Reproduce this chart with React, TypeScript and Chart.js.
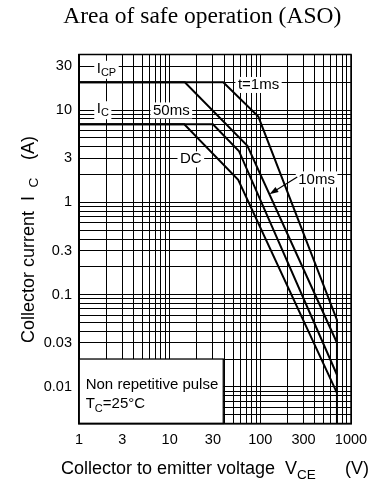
import React, { useEffect, useRef } from 'react';
import { Chart, registerables } from 'chart.js';

Chart.register(...registerables);

// ---------- data ----------
const X_MIN = 1;
const X_MAX = 1000;
const Y_MIN = 0.004;
const Y_MAX = 40;

const X_TICK_VALUES = [1, 3, 10, 30, 100, 300, 1000];
const X_TICK_LABELS = ['1', '3', '10', '30', '100', '300', '1000'];
const Y_TICK_VALUES = [0.01, 0.03, 0.1, 0.3, 1, 3, 10, 30];
const Y_TICK_LABELS = ['0.01', '0.03', '0.1', '0.3', '1', '3', '10', '30'];

// SOA curves: V_CE (V) / I_C (A)
const T1MS_VCE = [1, 39, 95, 700, 700];
const T1MS_IC = [20, 20, 8.5, 0.053, 0.004];
const T10MS_VCE = [1, 14.7, 72, 700];
const T10MS_IC = [20, 20, 4.1, 0.03];
const T50MS_VCE = [1, 30, 58, 700];
const T50MS_IC = [7, 7, 3.6, 0.0135];
const DC_VCE = [1, 14.5, 57, 700];
const DC_IC = [7, 7, 1.75, 0.0086];

// note box extent
const NOTE_BOX_VCE = [1, 39];
const NOTE_BOX_IC = [0.004, 0.02];

// curve labels (left edge / vertical middle, in data units)
const CURVE_LABELS = [
  { text: 'I', sub: 'CP', vce: 1.57, ic: 28 },
  { text: 'I', sub: 'C', vce: 1.57, ic: 10.2 },
  { text: '50ms', sub: '', vce: 6.55, ic: 9.9 },
  { text: 't=1ms', sub: '', vce: 56.6, ic: 18.7 },
  { text: 'DC', sub: '', vce: 13.0, ic: 2.92 },
  { text: '10ms', sub: '', vce: 262, ic: 1.77 },
];
const ARROW_LABEL_INDEX = 5;
const ARROW_TIP_VCE = 126;

const TITLE = 'Area of safe operation (ASO)';
const X_TITLE = ['Collector to emitter voltage', 'V', 'CE', '(V)'];
const Y_TITLE = ['Collector current', 'I', 'C', '(A)'];
const NOTE_LINE1 = 'Non repetitive pulse';
const NOTE_LINE2 = ['T', 'C', '=25°C'];

// ---------- helpers ----------
const SANS = '"Liberation Sans", Arial, Helvetica, sans-serif';
const SERIF = '"Liberation Serif", "Times New Roman", serif';

const gridValues = (min: number, max: number) => {
  const out: number[] = [];
  for (let e = Math.floor(Math.log10(min)) - 1; e <= Math.ceil(Math.log10(max)); e++) {
    for (let m = 1; m <= 9; m++) {
      const v = parseFloat((m * Math.pow(10, e)).toPrecision(6));
      if (v >= min * 0.9999 && v <= max * 1.0001) out.push(v);
    }
  }
  return out;
};

const labelFor = (v: number, vals: number[], labels: string[]) => {
  const i = vals.findIndex((t) => Math.abs(Math.log10(t) - Math.log10(v)) < 1e-6);
  return i >= 0 ? labels[i] : '';
};

const pts = (xs: number[], ys: number[]) => xs.map((x, i) => ({ x, y: ys[i] }));

const logInterp = (xs: number[], ys: number[], xv: number) => {
  for (let k = 0; k < xs.length - 1; k++) {
    if (xs[k + 1] > xs[k] && xv >= xs[k] && xv <= xs[k + 1]) {
      const t = (Math.log(xv) - Math.log(xs[k])) / (Math.log(xs[k + 1]) - Math.log(xs[k]));
      return Math.exp(Math.log(ys[k]) + t * (Math.log(ys[k + 1]) - Math.log(ys[k])));
    }
  }
  return ys[ys.length - 1];
};

const LABEL_SIZE = 15;
const SUB_SIZE = 11;

const measureLabel = (ctx: CanvasRenderingContext2D, l: { text: string; sub: string }) => {
  ctx.font = `${LABEL_SIZE}px ${SANS}`;
  const w1 = ctx.measureText(l.text).width;
  ctx.font = `${SUB_SIZE}px ${SANS}`;
  const w2 = l.sub ? ctx.measureText(l.sub).width : 0;
  return { w1, w2 };
};

const annotPlugin = {
  id: 'asoAnnot',
  beforeDatasetsDraw(chart: any) {
    const { ctx, scales } = chart;
    const x = scales.x;
    const y = scales.y;
    ctx.save();
    // note box
    const l = x.getPixelForValue(NOTE_BOX_VCE[0]);
    const r = x.getPixelForValue(NOTE_BOX_VCE[1]);
    const t = y.getPixelForValue(NOTE_BOX_IC[1]);
    const b = y.getPixelForValue(NOTE_BOX_IC[0]);
    ctx.fillStyle = '#fff';
    ctx.fillRect(l, t, r - l, b - t);
    ctx.strokeStyle = '#000';
    ctx.lineWidth = 1.3;
    ctx.strokeRect(l, t, r - l, b - t);
    // note text
    ctx.fillStyle = '#000';
    ctx.textAlign = 'left';
    ctx.textBaseline = 'alphabetic';
    ctx.font = `15px ${SANS}`;
    ctx.fillText(NOTE_LINE1, l + 6.7, t + 30);
    let cx = l + 6.7;
    ctx.fillText(NOTE_LINE2[0], cx, t + 49.3);
    cx += ctx.measureText(NOTE_LINE2[0]).width;
    ctx.font = `${SUB_SIZE}px ${SANS}`;
    ctx.fillText(NOTE_LINE2[1], cx, t + 52.5);
    cx += ctx.measureText(NOTE_LINE2[1]).width;
    ctx.font = `15px ${SANS}`;
    ctx.fillText(NOTE_LINE2[2], cx, t + 49.3);

    // label backgrounds
    CURVE_LABELS.forEach((lb) => {
      const px = x.getPixelForValue(lb.vce);
      const py = y.getPixelForValue(lb.ic);
      const { w1, w2 } = measureLabel(ctx, lb);
      ctx.fillStyle = '#fff';
      ctx.fillRect(px - 2.5, py - 8, w1 + w2 + 5, lb.sub ? 18 : 16);
    });
    ctx.restore();
  },
  afterDatasetsDraw(chart: any) {
    const { ctx, scales, chartArea } = chart;
    const x = scales.x;
    const y = scales.y;
    ctx.save();
    ctx.fillStyle = '#000';
    ctx.textAlign = 'left';
    ctx.textBaseline = 'middle';
    CURVE_LABELS.forEach((lb) => {
      const px = x.getPixelForValue(lb.vce);
      const py = y.getPixelForValue(lb.ic);
      const { w1 } = measureLabel(ctx, lb);
      ctx.font = `${LABEL_SIZE}px ${SANS}`;
      ctx.fillText(lb.text, px, py);
      if (lb.sub) {
        ctx.font = `${SUB_SIZE}px ${SANS}`;
        ctx.fillText(lb.sub, px + w1, py + 4);
      }
    });
    // arrow from 10ms label to the 10ms curve
    const al = CURVE_LABELS[ARROW_LABEL_INDEX];
    const sx = x.getPixelForValue(al.vce) - 1;
    const sy = y.getPixelForValue(al.ic) - 2.5;
    const tx = x.getPixelForValue(ARROW_TIP_VCE);
    const ty = y.getPixelForValue(logInterp(T10MS_VCE, T10MS_IC, ARROW_TIP_VCE));
    const ang = Math.atan2(ty - sy, tx - sx);
    const hl = 9;
    const hw = 3;
    ctx.strokeStyle = '#000';
    ctx.lineWidth = 1.2;
    ctx.beginPath();
    ctx.moveTo(sx, sy);
    ctx.lineTo(tx - Math.cos(ang) * hl * 0.8, ty - Math.sin(ang) * hl * 0.8);
    ctx.stroke();
    ctx.beginPath();
    ctx.moveTo(tx, ty);
    ctx.lineTo(tx - Math.cos(ang) * hl - Math.sin(ang) * hw, ty - Math.sin(ang) * hl + Math.cos(ang) * hw);
    ctx.lineTo(tx - Math.cos(ang) * hl + Math.sin(ang) * hw, ty - Math.sin(ang) * hl - Math.cos(ang) * hw);
    ctx.closePath();
    ctx.fill();

    // frame
    ctx.lineWidth = 1.5;
    ctx.strokeRect(chartArea.left, chartArea.top, chartArea.right - chartArea.left, chartArea.bottom - chartArea.top);
    ctx.restore();
  },
  afterDraw(chart: any) {
    const { ctx } = chart;
    ctx.save();
    ctx.fillStyle = '#000';
    ctx.textBaseline = 'alphabetic';
    // main title
    ctx.font = `23.5px ${SERIF}`;
    ctx.textAlign = 'center';
    ctx.fillText(TITLE, 202.3, 22.7);
    // x title
    ctx.textAlign = 'left';
    ctx.font = `18px ${SANS}`;
    ctx.fillText(X_TITLE[0], 61, 474);
    ctx.fillText(X_TITLE[1], 285, 474);
    ctx.font = `13.5px ${SANS}`;
    ctx.fillText(X_TITLE[2], 297, 478.5);
    ctx.font = `18px ${SANS}`;
    ctx.fillText(X_TITLE[3], 345, 474);
    // y title (rotated)
    ctx.translate(34, 343);
    ctx.rotate(-Math.PI / 2);
    ctx.fillText(Y_TITLE[0], 0, 0);
    ctx.fillText(Y_TITLE[1], 142, 0);
    ctx.font = `13.5px ${SANS}`;
    ctx.fillText(Y_TITLE[2], 155.5, 3.5);
    ctx.font = `18px ${SANS}`;
    ctx.fillText(Y_TITLE[3], 183, 0);
    ctx.restore();
  },
};

const buildConfig = (): any => {
  const line = (label: string, xs: number[], ys: number[]) => ({
    label,
    data: pts(xs, ys),
    showLine: true,
    borderColor: '#000',
    backgroundColor: '#000',
    borderWidth: 2,
    pointRadius: 0,
    pointHoverRadius: 0,
    tension: 0,
    fill: false,
  });
  const xGrid = gridValues(X_MIN, X_MAX);
  const yGrid = gridValues(Y_MIN, Y_MAX);
  return {
    type: 'scatter',
    data: {
      datasets: [
        line('t=1ms', T1MS_VCE, T1MS_IC),
        line('10ms', T10MS_VCE, T10MS_IC),
        line('50ms', T50MS_VCE, T50MS_IC),
        line('DC', DC_VCE, DC_IC),
      ],
    },
    options: {
      responsive: false,
      animation: false,
      events: [],
      layout: { padding: { top: 54.5, right: 30, bottom: 0, left: 0 } },
      plugins: { legend: { display: false }, tooltip: { enabled: false }, title: { display: false } },
      scales: {
        x: {
          type: 'logarithmic',
          min: X_MIN,
          max: X_MAX,
          afterBuildTicks: (s: any) => {
            s.ticks = xGrid.map((v) => ({ value: v }));
          },
          afterFit: (s: any) => {
            s.height = 59.5;
          },
          grid: { color: '#000', lineWidth: 1, drawTicks: false },
          border: { display: true, color: '#000', width: 1.5 },
          ticks: {
            autoSkip: false,
            maxRotation: 0,
            minRotation: 0,
            padding: 8,
            color: '#000',
            font: { family: SANS, size: 14.5 },
            callback: (v: any) => labelFor(Number(v), X_TICK_VALUES, X_TICK_LABELS),
          },
        },
        y: {
          type: 'logarithmic',
          min: Y_MIN,
          max: Y_MAX,
          afterBuildTicks: (s: any) => {
            s.ticks = yGrid.map((v) => ({ value: v }));
          },
          afterFit: (s: any) => {
            s.width = 79;
          },
          grid: { color: '#000', lineWidth: 1, drawTicks: false },
          border: { display: true, color: '#000', width: 1.5 },
          ticks: {
            autoSkip: false,
            padding: 7,
            color: '#000',
            font: { family: SANS, size: 14.5 },
            callback: (v: any) => labelFor(Number(v), Y_TICK_VALUES, Y_TICK_LABELS),
          },
        },
      },
    },
    plugins: [annotPlugin],
  };
};

export default function App() {
  const ref = useRef<HTMLCanvasElement>(null);
  useEffect(() => {
    if (!ref.current) return;
    const chart = new Chart(ref.current, buildConfig());
    return () => chart.destroy();
  }, []);
  return (
    <div style={{ position: 'fixed', left: 0, top: 0, width: 381, height: 483, background: '#fff' }}>
      <canvas ref={ref} width={381} height={483} style={{ display: 'block', width: 381, height: 483 }} />
    </div>
  );
}
